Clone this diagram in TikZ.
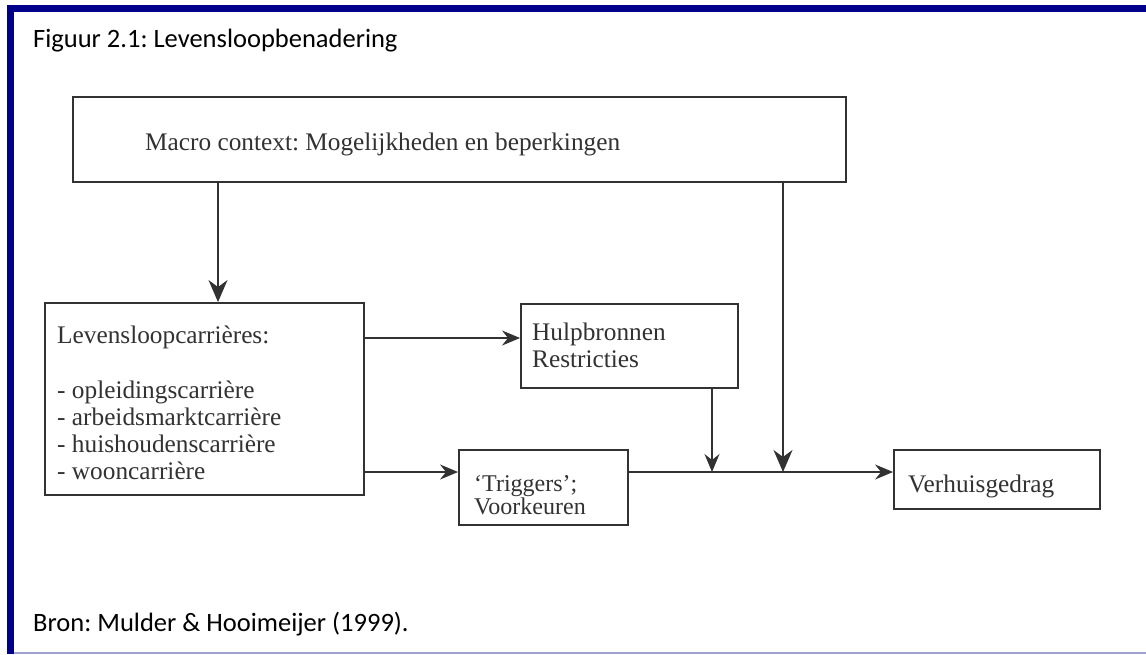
\documentclass[tikz,border=0pt]{standalone}
\usepackage{fontspec}
\setmainfont{Liberation Serif}
\newfontfamily\calibri{Carlito}
\usetikzlibrary{arrows.meta}
\definecolor{navyb}{RGB}{0,0,139}
\definecolor{lightb}{RGB}{160,160,210}
\definecolor{ink}{RGB}{50,50,50}
\frenchspacing
\begin{document}
\begin{tikzpicture}[x=1pt,y=-1pt,
  box/.style={draw=ink,line width=1.9pt,inner sep=0pt,fill=white},
  conn/.style={draw=ink,line width=1.2pt,-{Stealth[length=18pt,width=15pt,inset=6pt]}},
  bigconn/.style={draw=ink,line width=1.3pt,-{Stealth[length=22pt,width=19pt,inset=7pt]}},
  lbl/.style={anchor=base west,inner sep=0pt,text=ink,font=\fontsize{25.3}{27}\selectfont},
  slbl/.style={anchor=base west,inner sep=0pt,text=ink,font=\fontsize{24}{26}\selectfont},
  captxt/.style={anchor=base west,inner sep=0pt,text=black,font=\calibri\fontsize{26.5}{30}\selectfont}]
\useasboundingbox (0,0) rectangle (1146,654);
\fill[white] (0,0) rectangle (1146,654);
% frame
\fill[navyb] (7,5) rectangle (1146,12);
\fill[navyb] (7,5) rectangle (14,654);
\fill[lightb] (14,652) rectangle (1146,654);
% captions
\node[captxt] (title) at (33,47) {Figuur 2.1: Levensloopbenadering};
\node[captxt] (bron) at (33,631) {Bron: Mulder \& Hooimeijer (1999).};
% boxes
\node[box,minimum width=773pt,minimum height=85pt] (macro) at (459.5,139.5) {};
\node[box,minimum width=319pt,minimum height=192pt] (leven) at (204.5,399) {};
\node[box,minimum width=217pt,minimum height=84pt] (hulp) at (629.5,346) {};
\node[box,minimum width=169pt,minimum height=75pt] (trig) at (543.5,487.5) {};
\node[box,minimum width=206pt,minimum height=59pt] (verh) at (997,479.5) {};
% texts
\node[lbl] (tmacro) at (145,150) {Macro context: Mogelijkheden en beperkingen};
\node[lbl] (tl1) at (57,343) {Levensloopcarrières:};
\node[lbl] (tl2) at (57,398) {- opleidingscarrière};
\node[lbl] (tl3) at (57,425) {- arbeidsmarktcarrière};
\node[lbl] (tl4) at (57,452) {- huishoudenscarrière};
\node[lbl] (tl5) at (57,479) {- wooncarrière};
\node[lbl] (th1) at (532,340) {Hulpbronnen};
\node[lbl] (th2) at (532,367) {Restricties};
\node[slbl] (tt1) at (474,491) {‘Triggers’;};
\node[slbl] (tt2) at (474,514) {Voorkeuren};
\node[lbl] (tv) at (908,492) {Verhuisgedrag};
% helper coordinates
\coordinate (a1) at (218,0);
\coordinate (r1) at (0,338);
\coordinate (r2) at (0,472);
\coordinate (j1) at (712,472);
\coordinate (j2) at (783,472);
% connectors
\draw[bigconn] (macro.south -| a1) -- (leven.north -| a1);
\draw[conn] (leven.east |- r1) -- (hulp.west |- r1);
\draw[conn] (leven.east |- r2) -- (trig.west |- r2);
\draw[conn] (trig.east |- r2) -- (verh.west |- r2);
\draw[conn] (hulp.south -| j1) -- (j1);
\draw[bigconn] (macro.south -| j2) -- (j2);
\end{tikzpicture}
\end{document}
